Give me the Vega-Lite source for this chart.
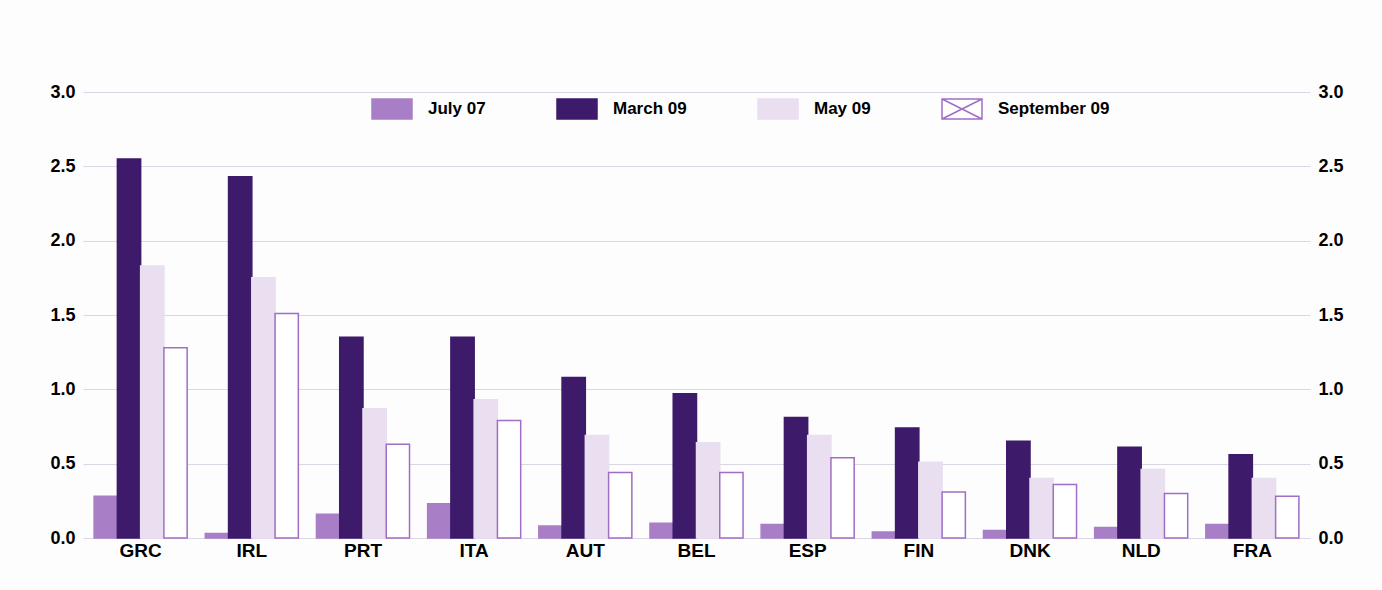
{
  "$schema": "https://vega.github.io/schema/vega-lite/v6.json",
  "width": 1227,
  "height": 446,
  "autosize": {"type": "none"},
  "padding": {"left": 83, "top": 92, "right": 72, "bottom": 52},
  "background": "#fdfdfd",
  "config": {"view": {"stroke": null}, "font": "Liberation Sans"},
  "data": {
    "values": [
      {"country": "GRC", "series": "July 07", "value": 0.28},
      {"country": "GRC", "series": "March 09", "value": 2.55},
      {"country": "GRC", "series": "May 09", "value": 1.83},
      {"country": "GRC", "series": "September 09", "value": 1.28},
      {"country": "IRL", "series": "July 07", "value": 0.03},
      {"country": "IRL", "series": "March 09", "value": 2.43},
      {"country": "IRL", "series": "May 09", "value": 1.75},
      {"country": "IRL", "series": "September 09", "value": 1.51},
      {"country": "PRT", "series": "July 07", "value": 0.16},
      {"country": "PRT", "series": "March 09", "value": 1.35},
      {"country": "PRT", "series": "May 09", "value": 0.87},
      {"country": "PRT", "series": "September 09", "value": 0.63},
      {"country": "ITA", "series": "July 07", "value": 0.23},
      {"country": "ITA", "series": "March 09", "value": 1.35},
      {"country": "ITA", "series": "May 09", "value": 0.93},
      {"country": "ITA", "series": "September 09", "value": 0.79},
      {"country": "AUT", "series": "July 07", "value": 0.08},
      {"country": "AUT", "series": "March 09", "value": 1.08},
      {"country": "AUT", "series": "May 09", "value": 0.69},
      {"country": "AUT", "series": "September 09", "value": 0.44},
      {"country": "BEL", "series": "July 07", "value": 0.10},
      {"country": "BEL", "series": "March 09", "value": 0.97},
      {"country": "BEL", "series": "May 09", "value": 0.64},
      {"country": "BEL", "series": "September 09", "value": 0.44},
      {"country": "ESP", "series": "July 07", "value": 0.09},
      {"country": "ESP", "series": "March 09", "value": 0.81},
      {"country": "ESP", "series": "May 09", "value": 0.69},
      {"country": "ESP", "series": "September 09", "value": 0.54},
      {"country": "FIN", "series": "July 07", "value": 0.04},
      {"country": "FIN", "series": "March 09", "value": 0.74},
      {"country": "FIN", "series": "May 09", "value": 0.51},
      {"country": "FIN", "series": "September 09", "value": 0.31},
      {"country": "DNK", "series": "July 07", "value": 0.05},
      {"country": "DNK", "series": "March 09", "value": 0.65},
      {"country": "DNK", "series": "May 09", "value": 0.40},
      {"country": "DNK", "series": "September 09", "value": 0.36},
      {"country": "NLD", "series": "July 07", "value": 0.07},
      {"country": "NLD", "series": "March 09", "value": 0.61},
      {"country": "NLD", "series": "May 09", "value": 0.46},
      {"country": "NLD", "series": "September 09", "value": 0.30},
      {"country": "FRA", "series": "July 07", "value": 0.09},
      {"country": "FRA", "series": "March 09", "value": 0.56},
      {"country": "FRA", "series": "May 09", "value": 0.40},
      {"country": "FRA", "series": "September 09", "value": 0.28}
    ]
  },
  "layer": [
    {
      "mark": {"type": "bar", "strokeWidth": 1.5},
      "encoding": {
        "x": {
          "field": "country", "type": "nominal",
          "sort": ["GRC", "IRL", "PRT", "ITA", "AUT", "BEL", "ESP", "FIN", "DNK", "NLD", "FRA"],
          "scale": {"paddingInner": 0.163, "paddingOuter": 0.1},
          "axis": {"title": null, "labelAngle": 0, "ticks": false, "domain": false, "grid": false,
                   "labelFont": "Liberation Sans", "labelFontWeight": "bold", "labelFontSize": 19,
                   "labelColor": "#000000", "labelPadding": 3}
        },
        "xOffset": {
          "field": "series", "type": "nominal",
          "sort": ["July 07", "March 09", "May 09", "September 09"],
          "scale": {"paddingInner": 0, "paddingOuter": 0}
        },
        "y": {
          "field": "value", "type": "quantitative",
          "scale": {"domain": [0, 3]},
          "axis": {"orient": "left", "title": null, "values": [0, 0.5, 1, 1.5, 2, 2.5, 3], "format": ".1f",
                   "ticks": false, "domain": false, "grid": true, "gridColor": "#dad6e4", "gridWidth": 1,
                   "labelFont": "Liberation Sans", "labelFontWeight": "bold", "labelFontSize": 18,
                   "labelColor": "#000000", "labelPadding": 8}
        },
        "fill": {
          "field": "series", "type": "nominal",
          "scale": {"domain": ["July 07", "March 09", "May 09", "September 09"],
                    "range": ["#a87fc6", "#3d1a6a", "#e9dff0", "#ffffff"]},
          "legend": {
            "title": null, "orient": "none", "direction": "horizontal",
            "legendX": 298, "legendY": 6,
            "symbolType": "M-2,-1H2V1H-2Z", "symbolSize": 400, "symbolStrokeWidth": 1.5,
            "labelFont": "Liberation Sans", "labelFontWeight": "bold", "labelFontSize": 17,
            "labelColor": "#000000", "labelOffset": 25, "columnPadding": 68,
            "encode": {"symbols": {"update": {"shape": {"signal": "datum.value === 'September 09' ? 'M-2,-1H2V1H-2ZM-2,-1L2,1M2,-1L-2,1' : 'M-2,-1H2V1H-2Z'"}}}}
          }
        },
        "stroke": {
          "field": "series", "type": "nominal",
          "scale": {"domain": ["July 07", "March 09", "May 09", "September 09"],
                    "range": ["#a87fc6", "#3d1a6a", "#e9dff0", "#a06ec4"]},
          "legend": {
            "title": null, "orient": "none", "direction": "horizontal",
            "legendX": 298, "legendY": 6,
            "symbolType": "M-2,-1H2V1H-2Z", "symbolSize": 400, "symbolStrokeWidth": 1.5,
            "labelFont": "Liberation Sans", "labelFontWeight": "bold", "labelFontSize": 17,
            "labelColor": "#000000", "labelOffset": 25, "columnPadding": 68,
            "encode": {"symbols": {"update": {"shape": {"signal": "datum.value === 'September 09' ? 'M-2,-1H2V1H-2ZM-2,-1L2,1M2,-1L-2,1' : 'M-2,-1H2V1H-2Z'"}}}}
          }
        }
      }
    },
    {
      "mark": {"type": "bar", "opacity": 0},
      "encoding": {
        "x": {"field": "country", "type": "nominal",
              "sort": ["GRC", "IRL", "PRT", "ITA", "AUT", "BEL", "ESP", "FIN", "DNK", "NLD", "FRA"]},
        "y": {
          "field": "value", "type": "quantitative",
          "scale": {"domain": [0, 3]},
          "axis": {"orient": "right", "title": null, "values": [0, 0.5, 1, 1.5, 2, 2.5, 3], "format": ".1f",
                   "ticks": false, "domain": false, "grid": false,
                   "labelFont": "Liberation Sans", "labelFontWeight": "bold", "labelFontSize": 18,
                   "labelColor": "#000000", "labelPadding": 8}
        }
      }
    }
  ],
  "resolve": {"scale": {"y": "independent"}}
}
